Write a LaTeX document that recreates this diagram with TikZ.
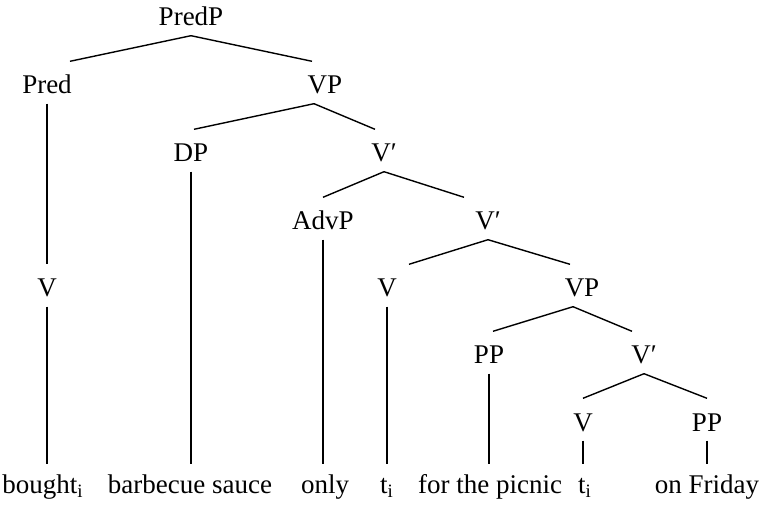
\documentclass[tikz,border=0pt]{standalone}
\usepackage{fontspec}
\usepackage{tikz}
\setmainfont{Liberation Serif}

\begin{document}
\begin{tikzpicture}[x=0.5pt, y=-0.5pt, line width=0.7pt,
  every node/.style={anchor=base, inner xsep=0pt, inner ysep=3pt, text height=13pt, text depth=1.5pt, font=\fontsize{13.5}{16}\selectfont},
  leaf/.style={text height=11pt}]
  \useasboundingbox (0,0) rectangle (765,507);

  % phrase labels, one row per level
  \node (PredP) at (191,26) {PredP};
  \node (Pred) at (47,94) {Pred};
  \node (VPa) at (325,94) {VP};
  \node (DP) at (191,162) {DP};
  \node (Vba) at (384,162) {V′};
  \node (AdvP) at (323,230) {AdvP};
  \node (Vbb) at (488,230) {V′};
  \node (Va) at (47,297) {V};
  \node (Vb) at (387,297) {V};
  \node (VPb) at (582,297) {VP};
  \node (PPa) at (489,364) {PP};
  \node (Vbc) at (644,364) {V′};
  \node (Vc) at (583,431) {V};
  \node (PPb) at (707,431) {PP};

  % words
  \node[leaf] (bought) at (43,493) {bought\textsubscript{i}};
  \node[leaf] (sauce) at (190,493) {barbecue sauce};
  \node[leaf] (only) at (325,493) {only};
  \node[leaf] (ta) at (387,493) {t\textsubscript{i}};
  \node[leaf] (picnic) at (490,493) {for the picnic};
  \node[leaf] (tb) at (585,493) {t\textsubscript{i}};
  \node[leaf] (friday) at (707,493) {on Friday};

  % branches
  \draw (PredP.south) -- ([xshift=11.5pt]Pred.north);
  \draw (PredP.south) -- ([xshift=-6.5pt]VPa.north);
  \draw ([xshift=-5.5pt]VPa.south) -- ([xshift=1.5pt]DP.north);
  \draw ([xshift=-5.5pt]VPa.south) -- ([xshift=-4.5pt]Vba.north);
  \draw (Vba.south) -- (AdvP.north);
  \draw (Vba.south) -- ([xshift=-12pt]Vbb.north);
  \draw (Vbb.south) -- ([xshift=11pt]Vb.north);
  \draw (Vbb.south) -- ([xshift=-6pt]VPb.north);
  \draw ([xshift=-4.5pt]VPb.south) -- ([xshift=2pt]PPa.north);
  \draw ([xshift=-4.5pt]VPb.south) -- ([xshift=-6pt]Vbc.north);
  \draw (Vbc.south) -- (Vc.north);
  \draw (Vbc.south) -- (PPb.north);

  % unary branches down to the words
  \draw (Pred.south) -- (Pred.south |- Va.north);
  \draw (Va.south) -- (Va.south |- bought.north);
  \draw (DP.south) -- (DP.south |- sauce.north);
  \draw (AdvP.south) -- (AdvP.south |- only.north);
  \draw (Vb.south) -- (Vb.south |- ta.north);
  \draw (PPa.south) -- (PPa.south |- picnic.north);
  \draw (Vc.south) -- (Vc.south |- tb.north);
  \draw (PPb.south) -- (PPb.south |- friday.north);
\end{tikzpicture}
\end{document}
